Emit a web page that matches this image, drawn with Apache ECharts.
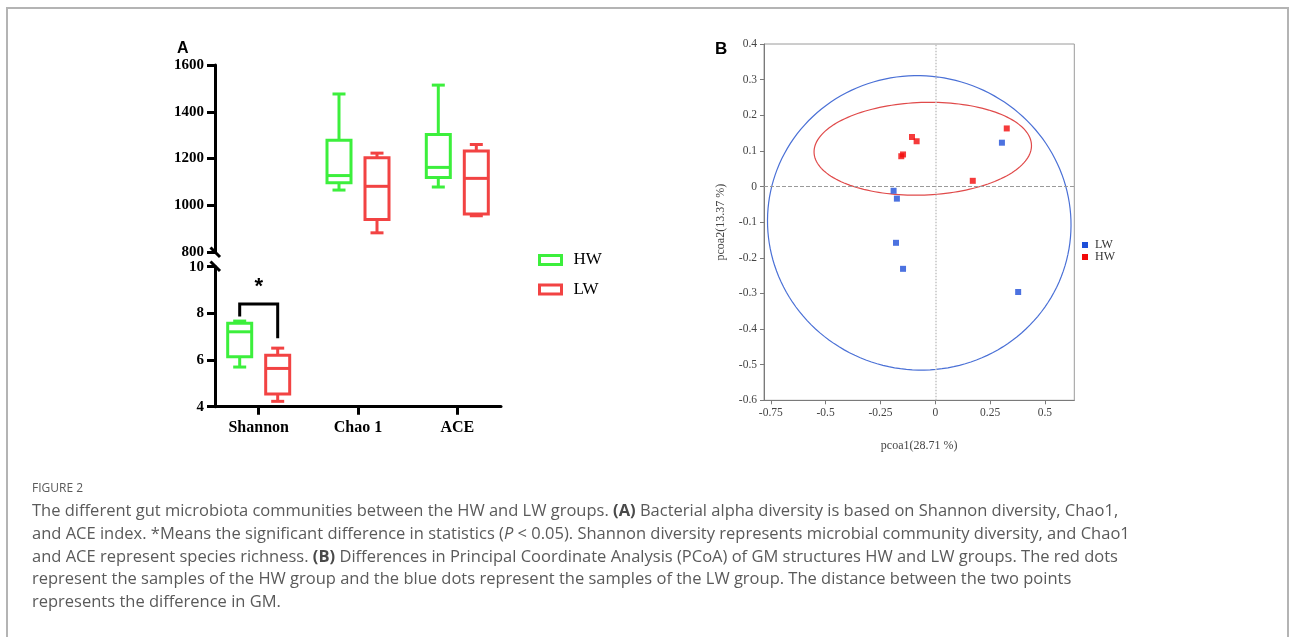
<!DOCTYPE html>
<html>
<head>
<meta charset="utf-8">
<script src="https://cdn.jsdelivr.net/npm/echarts@6/dist/echarts.min.js"></script>
<style>
  html, body { margin: 0; padding: 0; background: #fff; }
  #frame {
    position: absolute; left: 6px; top: 7px; width: 1283px; height: 660px;
    border: 2px solid #b4b4b4; border-bottom: none; box-sizing: border-box;
  }
  #chart { position: absolute; left: 0; top: 0; width: 1292px; height: 637px; }
  #caption {
    position: absolute; left: 32px; top: 478px;
    font-family: "Open Sans", sans-serif; color: #5a5a5a;
    white-space: nowrap;
  }
  #caption .fig { font-size: 12px; line-height: 20px; margin-bottom: 1px; }
  #caption .txt { font-size: 16.5px; line-height: 22.8px; }
  #caption b { font-weight: 700; color: #4a4a4a; }
</style>
</head>
<body>
<div id="frame"></div>
<div id="chart"></div>
<div id="caption">
  <div class="fig">FIGURE 2</div>
  <div class="txt">
    The different gut microbiota communities between the HW and LW groups. <b>(A)</b> Bacterial alpha diversity is based on Shannon diversity, Chao1,<br>
    and ACE index. *Means the significant difference in statistics (<i>P</i> &lt; 0.05). Shannon diversity represents microbial community diversity, and Chao1<br>
    and ACE represent species richness. <b>(B)</b> Differences in Principal Coordinate Analysis (PCoA) of GM structures HW and LW groups. The red dots<br>
    represent the samples of the HW group and the blue dots represent the samples of the LW group. The distance between the two points<br>
    represents the difference in GM.
  </div>
</div>
<script>
// ---- panel A: alpha diversity (min, Q1, median, Q3, max) ----
var categories = ['Shannon', 'Chao 1', 'ACE'];
var hwShannon = [5.70, 6.14, 7.21, 7.58, 7.67];
var lwShannon = [4.23, 4.54, 5.64, 6.21, 6.51];
var hwChao1 = [1065, 1096, 1127, 1278, 1476];
var lwChao1 = [882, 939, 1081, 1203, 1223];
var hwAce = [1078, 1119, 1162, 1303, 1514];
var lwAce = [955, 963, 1115, 1232, 1260];
var topTicks = [800, 1600, 200];      // min, max, step of the upper segment
var bottomTicks = [4, 10, 2];         // min, max, step of the lower segment
var sigBracket = [8.40, 7.87, 6.93];  // bar level, left leg end, right leg end

// ---- panel B: PCoA ----
var lwX = [0.304, -0.190, -0.175, -0.179, -0.147, 0.378];
var lwY = [0.123, -0.012, -0.034, -0.158, -0.231, -0.296];
var hwX = [-0.106, -0.085, -0.155, -0.147, 0.326, 0.171];
var hwY = [0.139, 0.127, 0.085, 0.090, 0.163, 0.016];
// confidence ellipses: centre x, centre y, half width, half height, tilt (deg)
var lwEllipse = [-0.073, -0.102, 0.693, 0.4126, 12];
var hwEllipse = [-0.057, 0.106, 0.496, 0.130, -2];
var pcoaXTicks = [-0.75, -0.5, -0.25, 0, 0.25, 0.5];

var GREEN = '#3cef3c';
var RED = '#f24343';
var SERIF = '"Liberation Serif", "Times New Roman", serif';

function pair(a, b) {
  return a.map(function (v, i) { return [v, b[i]]; });
}

// box with whiskers, shifted sideways by `offset` px from the category centre
function boxRenderer(offset) {
  return function (params, api) {
    var x = api.value(0);
    var pMin = api.coord([x, api.value(1)]);
    var pQ1 = api.coord([x, api.value(2)]);
    var pMed = api.coord([x, api.value(3)]);
    var pQ3 = api.coord([x, api.value(4)]);
    var pMax = api.coord([x, api.value(5)]);
    var cx = pMin[0] + offset;
    var hw = 12, cap = 6.5;
    var st = { stroke: api.visual('color'), lineWidth: 3, fill: null };
    return {
      type: 'group',
      children: [
        { type: 'rect', shape: { x: cx - hw, y: pQ3[1], width: hw * 2, height: pQ1[1] - pQ3[1] }, style: st },
        { type: 'line', shape: { x1: cx - hw, y1: pMed[1], x2: cx + hw, y2: pMed[1] }, style: st },
        { type: 'line', shape: { x1: cx, y1: pQ3[1], x2: cx, y2: pMax[1] }, style: st },
        { type: 'line', shape: { x1: cx, y1: pQ1[1], x2: cx, y2: pMin[1] }, style: st },
        { type: 'line', shape: { x1: cx - cap, y1: pMax[1], x2: cx + cap, y2: pMax[1] }, style: st },
        { type: 'line', shape: { x1: cx - cap, y1: pMin[1], x2: cx + cap, y2: pMin[1] }, style: st }
      ]
    };
  };
}

function boxSeries(name, color, offset, xi, yi, rows) {
  return {
    name: name,
    type: 'custom',
    xAxisIndex: xi,
    yAxisIndex: yi,
    itemStyle: { color: color },
    encode: { x: 0, y: [1, 2, 3, 4, 5] },
    renderItem: boxRenderer(offset),
    data: rows,
    silent: true
  };
}

function ellipseRenderer(params, api) {
  var c = api.coord([api.value(0), api.value(1)]);
  var s = api.size([api.value(2), api.value(3)]);
  var a = api.value(4) * Math.PI / 180;
  var pts = [];
  for (var i = 0; i <= 160; i++) {
    var t = i / 160 * Math.PI * 2;
    var ex = s[0] * Math.cos(t), ey = s[1] * Math.sin(t);
    pts.push([c[0] + ex * Math.cos(a) - ey * Math.sin(a), c[1] + ex * Math.sin(a) + ey * Math.cos(a)]);
  }
  return { type: 'polyline', shape: { points: pts }, style: { fill: null, stroke: api.visual('color'), lineWidth: 1.2 } };
}

var chart = echarts.init(document.getElementById('chart'));

var axisBlack = { show: true, onZero: false, lineStyle: { color: '#000', width: 3 } };
var tickBlack = { show: true, length: 8, lineStyle: { color: '#000', width: 3 } };
var labelBold = {
  color: '#000', fontFamily: SERIF, fontWeight: 'bold', fontSize: 15, margin: 11,
  formatter: function (v) { return String(v); }
};

var grayLine = { show: true, onZero: false, lineStyle: { color: '#7a7a7a', width: 1 } };
var grayTick = { show: true, length: 4, lineStyle: { color: '#7a7a7a', width: 1 } };
var grayLabel = { color: '#444', fontFamily: SERIF, fontSize: 11.5, margin: 7 };

chart.setOption({
  animation: false,
  grid: [
    { left: 215, top: 65, width: 286, height: 187, outerBoundsMode: 'none' },
    { left: 215, top: 266.7, width: 286, height: 140, outerBoundsMode: 'none' },
    { left: 764, top: 44, width: 310.3, height: 356.3, show: true, borderColor: '#9a9a9a', borderWidth: 1, outerBoundsMode: 'none' }
  ],
  xAxis: [
    { gridIndex: 0, type: 'value', min: 0.56, max: 3.44, show: false },
    {
      gridIndex: 1, type: 'value', min: 0.56, max: 3.44,
      axisLine: axisBlack,
      axisTick: Object.assign({ customValues: [1, 2, 3] }, tickBlack),
      axisLabel: Object.assign({}, labelBold, {
        fontSize: 16, margin: 13, customValues: [1, 2, 3],
        formatter: function (v) { return categories[Math.round(v) - 1]; }
      }),
      splitLine: { show: false }
    },
    {
      gridIndex: 2, type: 'value', min: -0.781, max: 0.634,
      axisLine: grayLine,
      axisTick: Object.assign({ customValues: pcoaXTicks }, grayTick),
      axisLabel: Object.assign({}, grayLabel, { customValues: pcoaXTicks, formatter: function (v) { return String(v); } }),
      splitLine: { show: false },
      name: 'pcoa1(28.71 %)', nameLocation: 'middle', nameGap: 40,
      nameTextStyle: { color: '#444', fontFamily: SERIF, fontSize: 12 }
    }
  ],
  yAxis: [
    {
      gridIndex: 0, type: 'value', min: topTicks[0], max: topTicks[1], interval: topTicks[2],
      axisLine: axisBlack, axisTick: tickBlack, axisLabel: labelBold, splitLine: { show: false }
    },
    {
      gridIndex: 1, type: 'value', min: bottomTicks[0], max: bottomTicks[1], interval: bottomTicks[2],
      axisLine: axisBlack, axisTick: tickBlack, axisLabel: labelBold, splitLine: { show: false }
    },
    {
      gridIndex: 2, type: 'value', min: -0.6, max: 0.4, interval: 0.1,
      axisLine: grayLine, axisTick: grayTick,
      axisLabel: Object.assign({}, grayLabel, { formatter: function (v) { return String(Math.round(v * 10) / 10); } }),
      splitLine: { show: false },
      name: 'pcoa2(13.37 %)', nameLocation: 'middle', nameGap: 37, nameRotate: 90,
      nameTextStyle: { color: '#444', fontFamily: SERIF, fontSize: 12 }
    }
  ],
  legend: [
    {
      left: 538, top: 251.5, orient: 'vertical', padding: 0, itemGap: 12.5,
      itemWidth: 22, itemHeight: 9, selectedMode: false,
      textStyle: { color: '#000', fontFamily: SERIF, fontSize: 17, lineHeight: 16, padding: [0, 0, 0, 7] },
      data: [
        { name: 'HW', icon: 'rect', itemStyle: { color: '#fff', borderColor: GREEN, borderWidth: 3 } },
        { name: 'LW', icon: 'rect', itemStyle: { color: '#fff', borderColor: RED, borderWidth: 3 } }
      ]
    },
    {
      left: 1082, top: 239, orient: 'vertical', padding: 0, itemGap: 0,
      itemWidth: 6, itemHeight: 6, selectedMode: false,
      textStyle: { color: '#333', fontFamily: SERIF, fontSize: 12, lineHeight: 11, padding: [0, 0, 0, 2] },
      data: [
        { name: 'LW', icon: 'rect', itemStyle: { color: '#1f4fd8', borderWidth: 0 } },
        { name: 'HW', icon: 'rect', itemStyle: { color: '#f20a0a', borderWidth: 0 } }
      ]
    }
  ],
  graphic: [
    { type: 'text', left: 177, top: 41, style: { text: 'A', font: 'bold 16px "Liberation Sans", Arial, sans-serif', fill: '#000' } },
    { type: 'text', left: 715, top: 41, style: { text: 'B', font: 'bold 17px "Liberation Sans", Arial, sans-serif', fill: '#000' } },
    { type: 'line', shape: { x1: 210.5, y1: 247.5, x2: 220, y2: 257 }, style: { stroke: '#000', lineWidth: 3 } },
    { type: 'line', shape: { x1: 210.5, y1: 261.5, x2: 220, y2: 271 }, style: { stroke: '#000', lineWidth: 3 } }
  ],
  series: [
    boxSeries('HW', GREEN, -19, 0, 0, [[2].concat(hwChao1), [3].concat(hwAce)]),
    boxSeries('LW', RED, 19, 0, 0, [[2].concat(lwChao1), [3].concat(lwAce)]),
    boxSeries('HW', GREEN, -19, 1, 1, [[1].concat(hwShannon)]),
    boxSeries('LW', RED, 19, 1, 1, [[1].concat(lwShannon)]),
    {
      // significance bracket + star between the Shannon boxes
      type: 'custom', xAxisIndex: 1, yAxisIndex: 1, silent: true,
      data: [[1].concat(sigBracket)],
      encode: { x: 0, y: [1, 2, 3] },
      renderItem: function (params, api) {
        var x = api.value(0);
        var bar = api.coord([x, api.value(1)]);
        var l = api.coord([x, api.value(2)]);
        var r = api.coord([x, api.value(3)]);
        var x1 = bar[0] - 19, x2 = bar[0] + 19;
        return {
          type: 'group',
          children: [
            { type: 'polyline', shape: { points: [[x1, l[1]], [x1, bar[1]], [x2, bar[1]], [x2, r[1]]] },
              style: { stroke: '#000', lineWidth: 3, fill: null } },
            { type: 'text', x: bar[0], y: bar[1] - 6,
              style: { text: '*', font: 'bold 22px "Liberation Sans", Arial, sans-serif', fill: '#000', align: 'center', verticalAlign: 'bottom' } }
          ]
        };
      }
    },
    {
      name: 'LW', type: 'custom', xAxisIndex: 2, yAxisIndex: 2, silent: true,
      itemStyle: { color: '#4a70d6' }, encode: { x: 0, y: 1 },
      renderItem: ellipseRenderer, data: [lwEllipse]
    },
    {
      name: 'HW', type: 'custom', xAxisIndex: 2, yAxisIndex: 2, silent: true,
      itemStyle: { color: '#e04a4a' }, encode: { x: 0, y: 1 },
      renderItem: ellipseRenderer, data: [hwEllipse]
    },
    {
      name: 'LW', type: 'scatter', xAxisIndex: 2, yAxisIndex: 2,
      symbol: 'rect', symbolSize: 6, itemStyle: { color: '#1f4fd8' },
      data: pair(lwX, lwY),
      markLine: {
        silent: true, symbol: 'none', label: { show: false },
        data: [
          { xAxis: 0, lineStyle: { color: '#c4c4c4', type: 'dotted', width: 1.5 } },
          { yAxis: 0, lineStyle: { color: '#9a9a9a', type: 'dashed', width: 1 } }
        ]
      }
    },
    {
      name: 'HW', type: 'scatter', xAxisIndex: 2, yAxisIndex: 2,
      symbol: 'rect', symbolSize: 6, itemStyle: { color: '#f20a0a' },
      data: pair(hwX, hwY)
    }
  ]
});
</script>
</body>
</html>
